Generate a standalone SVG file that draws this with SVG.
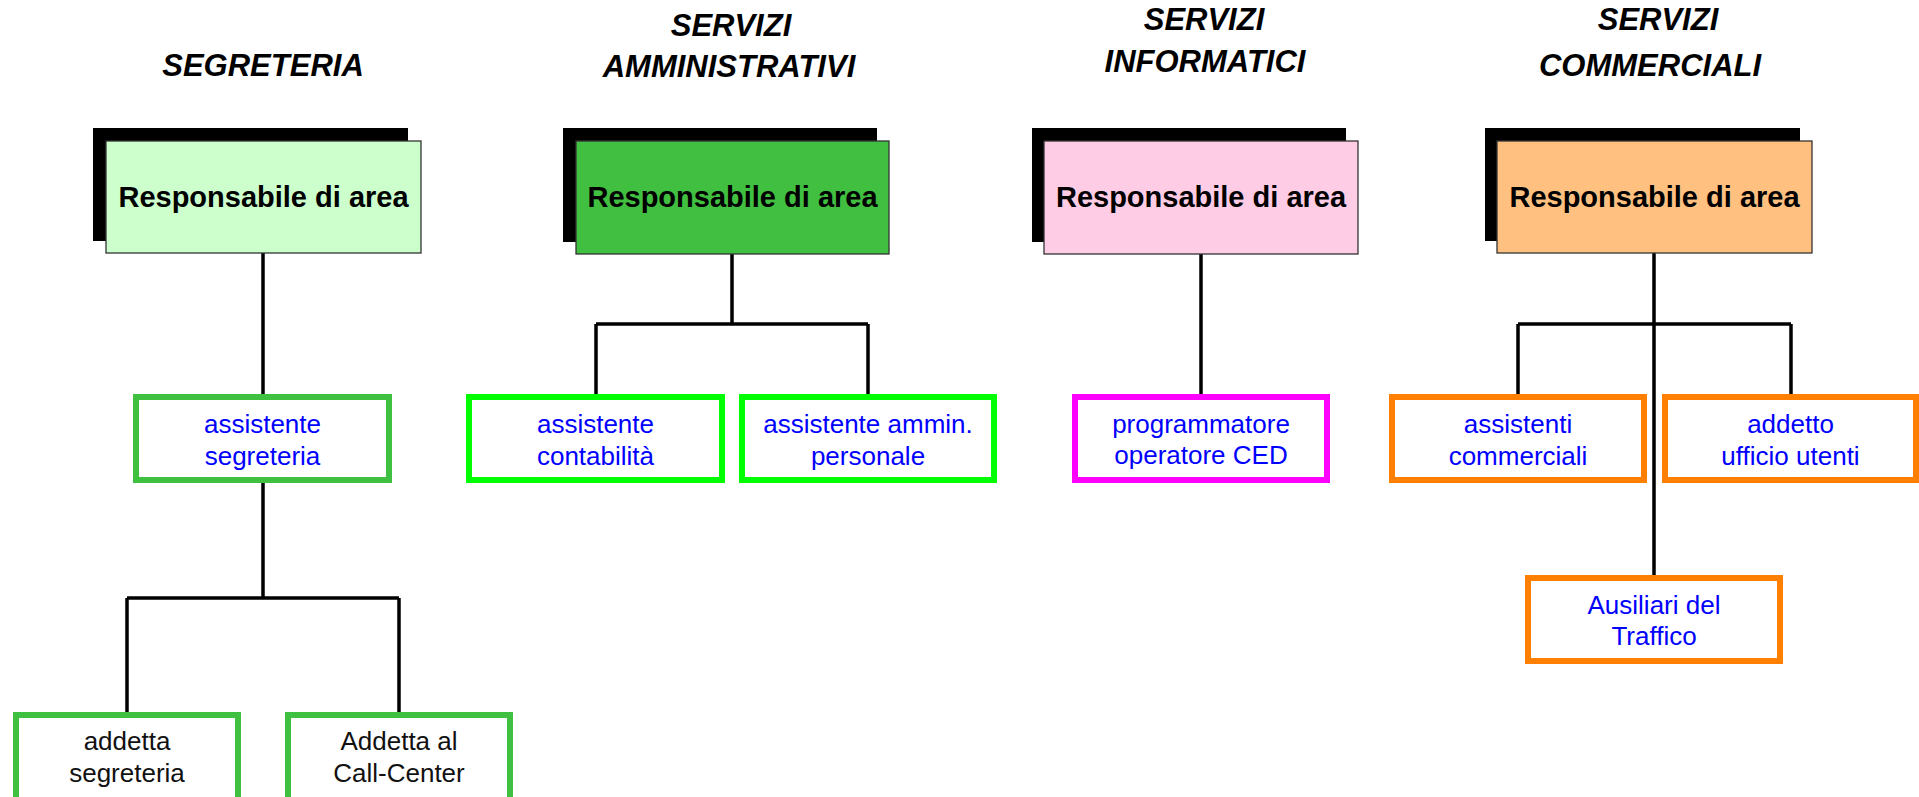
<svg xmlns="http://www.w3.org/2000/svg" width="1919" height="797" viewBox="0 0 1919 797">
<style>
.title{font-family:"Liberation Sans",Arial,sans-serif;font-size:31px;font-weight:bold;font-style:italic;fill:#000;text-anchor:middle}
.shadow{fill:#000}
.main{stroke:#333;stroke-width:1.3}
.head{font-family:"Liberation Sans",Arial,sans-serif;font-size:29px;font-weight:bold;fill:#000;text-anchor:middle}
.box{fill:#fff;stroke-width:6}
.lbl{font-family:"Liberation Sans",Arial,sans-serif;font-size:26px;fill:#0000FF;text-anchor:middle}
.lblk{font-family:"Liberation Sans",Arial,sans-serif;font-size:26px;fill:#111;text-anchor:middle}
.conn{fill:none;stroke:#000;stroke-width:3.5}
</style>
<rect width="1919" height="797" fill="#fff"/>
<g id="titles">
<text class="title" x="263" y="76">SEGRETERIA</text>
<text class="title" x="731" y="36">SERVIZI</text>
<text class="title" x="729" y="77">AMMINISTRATIVI</text>
<text class="title" x="1204" y="30">SERVIZI</text>
<text class="title" x="1205" y="72">INFORMATICI</text>
<text class="title" x="1658" y="30">SERVIZI</text>
<text class="title" x="1650" y="76">COMMERCIALI</text>
</g>
<g id="connectors">
<path class="conn" d="M263 253 V396"/>
<path class="conn" d="M263 483 V598 M127 598 H399 M127 598 V714 M399 598 V714"/>
<path class="conn" d="M732 254 V324 M596 324 H868 M596 324 V396 M868 324 V396"/>
<path class="conn" d="M1201 254 V396"/>
<path class="conn" d="M1654 253 V577 M1518 324 H1791 M1518 324 V396 M1791 324 V396"/>
</g>
<g id="head-segreteria">
<rect class="shadow" x="93" y="128" width="315" height="113"/>
<rect class="main" x="106" y="141" width="315" height="112" fill="#CCFFCC"/>
<text class="head" x="263.5" y="207">Responsabile di area</text>
</g>
<g id="head-amministrativi">
<rect class="shadow" x="563" y="128" width="314" height="114"/>
<rect class="main" x="576" y="141" width="313" height="113" fill="#40BF40"/>
<text class="head" x="732.5" y="207">Responsabile di area</text>
</g>
<g id="head-informatici">
<rect class="shadow" x="1032" y="128" width="314" height="114"/>
<rect class="main" x="1044" y="141" width="314" height="113" fill="#FFCCE5"/>
<text class="head" x="1201" y="207">Responsabile di area</text>
</g>
<g id="head-commerciali">
<rect class="shadow" x="1485" y="128" width="315" height="113"/>
<rect class="main" x="1497" y="141" width="315" height="112" fill="#FFC080"/>
<text class="head" x="1654.5" y="207">Responsabile di area</text>
</g>
<g id="assistente-segreteria">
<rect class="box" x="136" y="397" width="253" height="83" stroke="#40C040"/>
<text class="lbl" x="262.5" y="433">assistente</text>
<text class="lbl" x="262.5" y="465">segreteria</text>
</g>
<g id="assistente-contabilita">
<rect class="box" x="469" y="397" width="253" height="83" stroke="#00FF00"/>
<text class="lbl" x="595.5" y="433">assistente</text>
<text class="lbl" x="595.5" y="465">contabilità</text>
</g>
<g id="assistente-ammin">
<rect class="box" x="742" y="397" width="252" height="83" stroke="#00FF00"/>
<text class="lbl" x="868" y="433">assistente ammin.</text>
<text class="lbl" x="868" y="465">personale</text>
</g>
<g id="programmatore">
<rect class="box" x="1075" y="397" width="252" height="83" stroke="#FF00FF"/>
<text class="lbl" x="1201" y="433">programmatore</text>
<text class="lbl" x="1201" y="464">operatore CED</text>
</g>
<g id="assistenti-commerciali">
<rect class="box" x="1392" y="397" width="252" height="83" stroke="#FF8000"/>
<text class="lbl" x="1518" y="433">assistenti</text>
<text class="lbl" x="1518" y="465">commerciali</text>
</g>
<g id="addetto-ufficio-utenti">
<rect class="box" x="1665" y="397" width="251" height="83" stroke="#FF8000"/>
<text class="lbl" x="1790.5" y="433">addetto</text>
<text class="lbl" x="1790.5" y="465">ufficio utenti</text>
</g>
<g id="ausiliari-traffico">
<rect class="box" x="1528" y="578" width="252" height="83" stroke="#FF8000"/>
<text class="lbl" x="1654" y="614">Ausiliari del</text>
<text class="lbl" x="1654" y="645">Traffico</text>
</g>
<g id="addetta-segreteria">
<rect class="box" x="16" y="715" width="222" height="86" stroke="#40C040"/>
<text class="lblk" x="127" y="750">addetta</text>
<text class="lblk" x="127" y="782">segreteria</text>
</g>
<g id="addetta-call-center">
<rect class="box" x="288" y="715" width="222" height="86" stroke="#40C040"/>
<text class="lblk" x="399" y="750">Addetta al</text>
<text class="lblk" x="399" y="782">Call-Center</text>
</g>
</svg>
